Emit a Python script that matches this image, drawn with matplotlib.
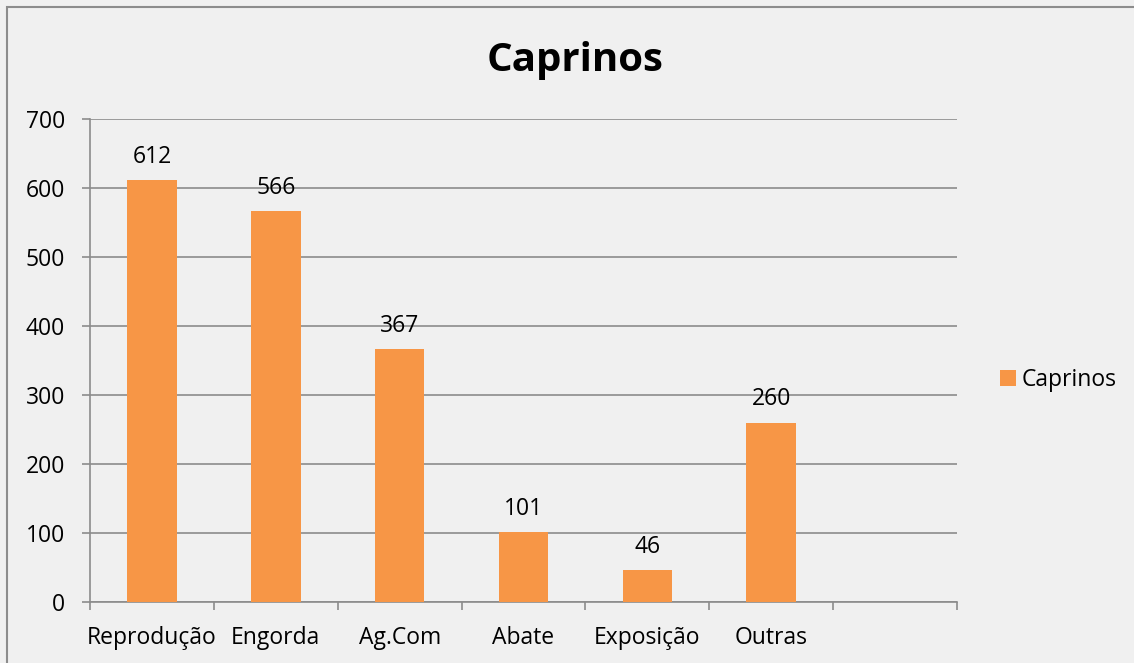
import matplotlib
matplotlib.use("Agg")
import matplotlib.pyplot as plt
from matplotlib.patches import Rectangle

# Chart data
categories = ["Reprodução", "Engorda", "Ag.Com", "Abate", "Exposição", "Outras"]
values = [612, 566, 367, 101, 46, 260]
n_slots = 7  # one empty category slot at the end
series_name = "Caprinos"
title = "Caprinos"

bar_color = "#f79646"
bg_color = "#f0f0f0"
grid_color = "#8c8c8c"

plt.rcParams["font.family"] = ["Open Sans", "DejaVu Sans"]
fs = 16.5

fig = plt.figure(figsize=(11.34, 6.63), dpi=100, facecolor=bg_color)
ax = fig.add_axes([90 / 1134, 1 - 602 / 663, (957 - 90) / 1134, (602 - 119) / 663])
ax.set_facecolor(bg_color)

x = list(range(len(categories)))
bars = ax.bar(x, values, width=0.4, color=bar_color, label=series_name, zorder=3)

for xi, v in zip(x, values):
    ax.annotate(str(v), (xi, v), xytext=(0, 8), textcoords="offset points",
                ha="center", va="bottom", fontsize=fs)

ax.set_xlim(-0.5, n_slots - 0.5)
ax.set_ylim(0, 700)
ax.set_yticks(range(0, 701, 100))
ax.set_xticks(x)
ax.set_xticklabels(categories)
ax.set_xticks([i - 0.5 for i in range(n_slots + 1)], minor=True)
ax.tick_params(axis="x", which="major", length=0, pad=17, labelsize=fs)
ax.tick_params(axis="x", which="minor", length=6, width=1.2, color=grid_color)
ax.tick_params(axis="y", length=6, width=1.2, color=grid_color, labelsize=fs, pad=12)

ax.grid(axis="y", color=grid_color, linewidth=1.2, zorder=0)
for side in ("top", "right"):
    ax.spines[side].set_visible(False)
for side in ("left", "bottom"):
    ax.spines[side].set_color(grid_color)
    ax.spines[side].set_linewidth(1.2)

fig.text(575 / 1134, 1 - 60 / 663, title, ha="center", va="center",
         fontsize=29, fontweight="bold")

fig.legend(handles=[bars], labels=[series_name], loc="center left",
           bbox_to_anchor=(979 / 1134, 1 - 380 / 663), frameon=False,
           fontsize=fs, handlelength=0.7, handleheight=0.7, handletextpad=0.25)

# outer chart border (bottom and right run past the image edge)
fig.patches.append(Rectangle((7 / 1134, -0.05), 1.1, 1 - 7 / 663 + 0.05,
                             transform=fig.transFigure, fill=False,
                             edgecolor="#8c8c8c", linewidth=1.5))

fig.savefig("out.png", dpi=100, facecolor=bg_color)
